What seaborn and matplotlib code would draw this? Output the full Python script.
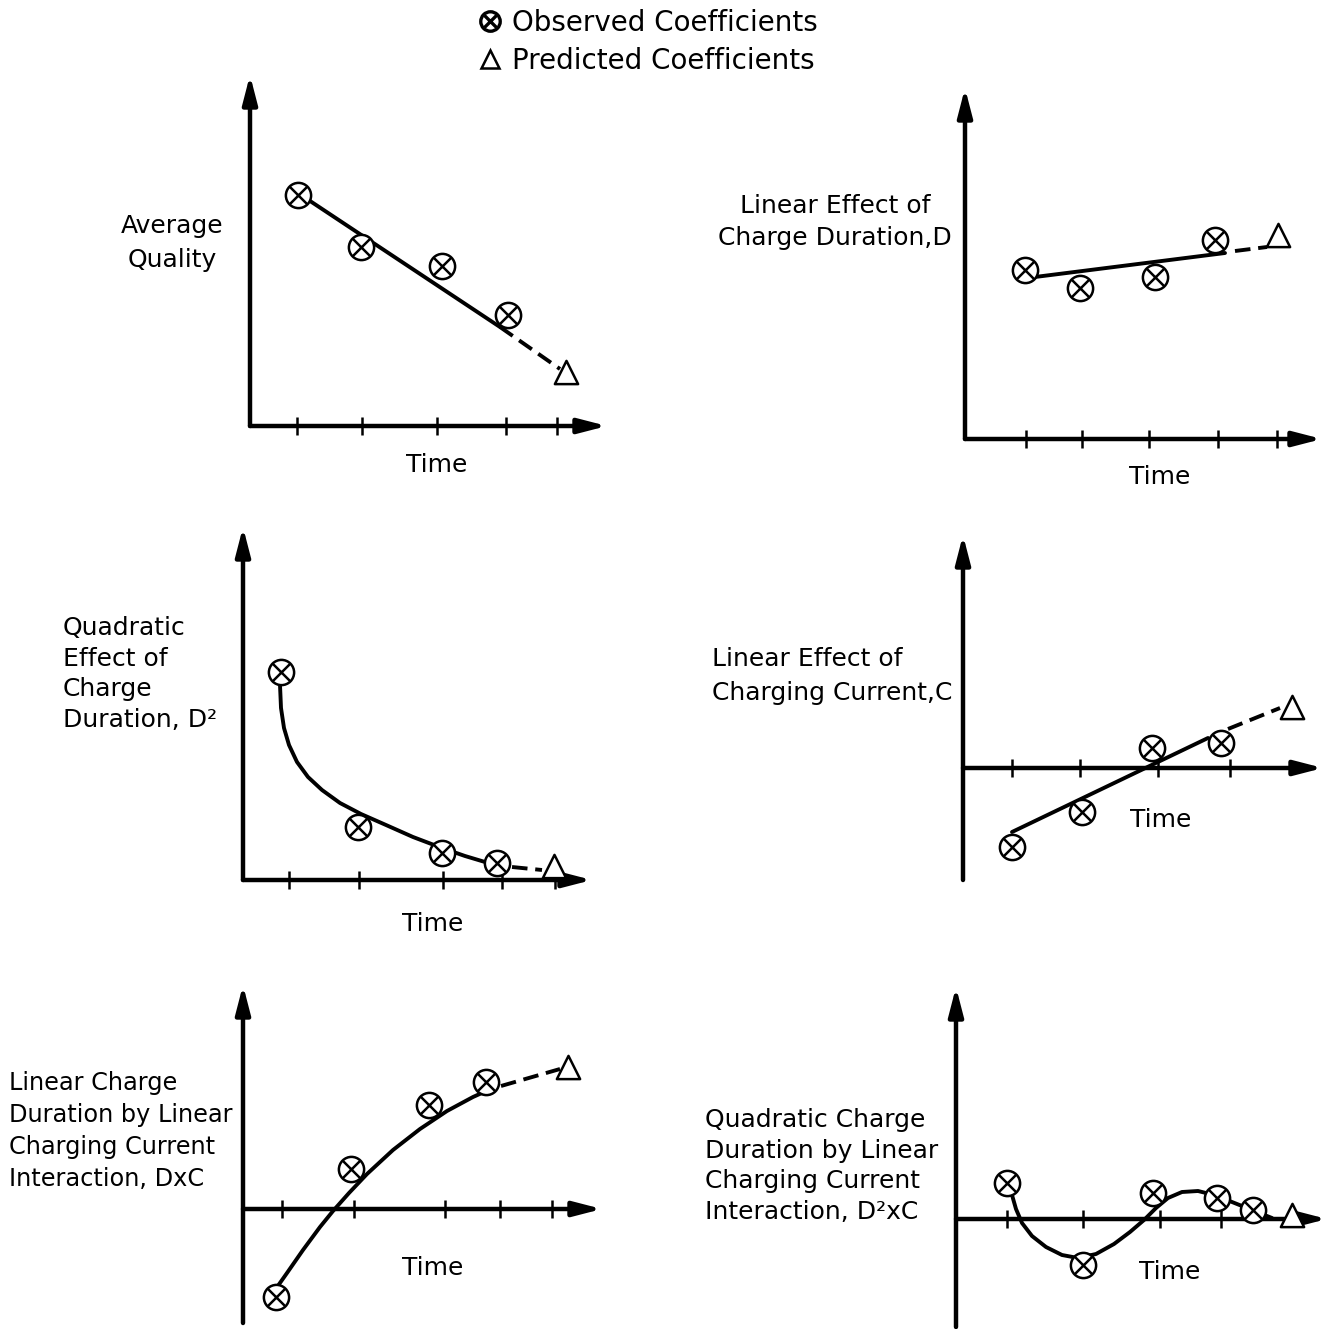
import numpy as np
import pandas as pd
import seaborn as sns
import matplotlib
matplotlib.use("Agg")
import matplotlib.pyplot as plt
from matplotlib.lines import Line2D
from matplotlib.legend_handler import HandlerTuple

# ------------------------------------------------------------
# Data (arbitrary units, origin = axes corner)
# ------------------------------------------------------------

# 1. Average quality
avg_ticks = [47, 112, 187, 256, 307]
avg_obs_t = [48, 111, 192, 258]
avg_obs_v = [231, 179, 160, 111]
avg_pred_t = [316]
avg_pred_v = [54]
avg_fit_t = [48, 250]
avg_fit_v = [233, 99]
avg_ext_t = [250, 310]
avg_ext_v = [99, 57]

# 2. Linear effect of charge duration D
lind_ticks = [61, 117, 184, 253, 312]
lind_obs_t = [60, 115, 190, 250]
lind_obs_v = [169, 151, 162, 199]
lind_pred_t = [313]
lind_pred_v = [204]
lind_fit_t = [62, 260]
lind_fit_v = [161, 186]
lind_ext_t = [270, 302]
lind_ext_v = [188, 192]

# 3. Quadratic effect of charge duration D^2
quad_ticks = [46, 116, 200, 259, 312]
quad_obs_t = [38, 115, 199, 254]
quad_obs_v = [208, 53, 27, 17]
quad_pred_t = [311]
quad_pred_v = [14]
quad_fit_t = [37, 38, 41, 46, 54, 65, 79, 97, 118, 143, 170, 199, 222, 242]
quad_fit_v = [195, 172, 152, 135, 118, 103, 90, 77, 66, 55, 43, 32, 24, 18]
quad_ext_t = [269, 299]
quad_ext_v = [13, 10]

# 4. Linear effect of charging current C
linc_ticks = [49, 117, 195, 267]
linc_obs_t = [49, 119, 189, 258]
linc_obs_v = [-79, -44, 20, 25]
linc_pred_t = [329]
linc_pred_v = [61]
linc_fit_t = [49, 245]
linc_fit_v = [-64, 30]
linc_ext_t = [265, 317]
linc_ext_v = [39, 60]

# 5. D x C interaction
dxc_ticks = [39, 111, 202, 257, 309]
dxc_obs_t = [33, 108, 186, 243]
dxc_obs_v = [-88, 40, 104, 127]
dxc_pred_t = [325]
dxc_pred_v = [142]
dxc_fit_t = [32, 44, 60, 77, 90, 106, 124, 150, 177, 204, 230, 250]
dxc_fit_v = [-81, -64, -41, -18, -2, 16, 35, 59, 80, 98, 112, 121]
dxc_ext_t = [258, 317]
dxc_ext_v = [123, 140]

# 6. D^2 x C interaction
d2c_ticks = [51, 127, 204, 265]
d2c_obs_t = [51, 127, 197, 261, 297]
d2c_obs_v = [36, -46, 26, 21, 9]
d2c_pred_t = [336]
d2c_pred_v = [4]
d2c_fit_t = [56, 60, 66, 76, 90, 106, 122, 140, 158, 174, 188, 200,
             212, 226, 242, 258, 276, 296, 306, 316]
d2c_fit_v = [24, 10, -4, -17, -28, -36, -39, -35, -25, -13, -1, 11,
             21, 27, 28, 24, 17, 9, 5, 1]
d2c_ext_t = []
d2c_ext_v = []

labels = [
    "Average\nQuality",
    "Linear Effect of\nCharge Duration,D",
    "Quadratic\nEffect of\nCharge\nDuration, D²",
    "Linear Effect of\nCharging Current,C",
    "Linear Charge\nDuration by Linear\nCharging Current\nInteraction, DxC",
    "Quadratic Charge\nDuration by Linear\nCharging Current\nInteraction, D²xC",
]

# ------------------------------------------------------------
# Figure
# ------------------------------------------------------------
sns.set_theme(style="white")
plt.rcParams["font.family"] = ["DejaVu Sans"]
plt.rcParams["text.color"] = "black"

W, H = 1328, 1329
fig = plt.figure(figsize=(W / 100, H / 100), dpi=100)

FS = 18
LW_AX = 3.2
LW_LINE = 2.8


def panel(ox, oy, xr, yt, yb, ticks, obs_t, obs_v, pred_t, pred_v,
          fit_t, fit_v, ext_t, ext_v):
    # axes whose data units are one pixel, origin at the drawn corner
    x0, x1 = -30, xr + 20
    y0, y1 = yb - 20, yt + 20
    ax = fig.add_axes([(ox + x0) / W, (H - (oy - y0)) / H,
                       (x1 - x0) / W, (y1 - y0) / H])
    ax.set_xlim(x0, x1)
    ax.set_ylim(y0, y1)
    ax.axis("off")

    arrow = dict(arrowstyle="-|>,head_length=0.85,head_width=0.22",
                 mutation_scale=20, lw=LW_AX, color="black",
                 shrinkA=0, shrinkB=0)
    ax.annotate("", xy=(0, yt), xytext=(0, yb), arrowprops=arrow)
    ax.annotate("", xy=(xr, 0), xytext=(0, 0), arrowprops=arrow)
    ax.vlines(ticks, -9, 9, colors="black", lw=1.8)

    sns.lineplot(x=fit_t, y=fit_v, ax=ax, color="black", lw=LW_LINE,
                 sort=False, estimator=None, solid_joinstyle="round")
    if len(ext_t):
        sns.lineplot(x=ext_t, y=ext_v, ax=ax, color="black", lw=LW_LINE,
                     sort=False, estimator=None, linestyle=(0, (4, 2)))

    sns.scatterplot(x=obs_t, y=obs_v, ax=ax, marker="o", s=330,
                    color="white", edgecolor="black", linewidth=1.8, zorder=4)
    sns.scatterplot(x=obs_t, y=obs_v, ax=ax, marker="x", s=150,
                    color="black", linewidth=1.8, zorder=5)
    sns.scatterplot(x=pred_t, y=pred_v, ax=ax, marker="^", s=280,
                    color="white", edgecolor="black", linewidth=1.8, zorder=4)
    return ax


panel(250, 426, 357, 351, 0, avg_ticks, avg_obs_t, avg_obs_v,
      avg_pred_t, avg_pred_v, avg_fit_t, avg_fit_v, avg_ext_t, avg_ext_v)
panel(965, 439, 357, 351, 0, lind_ticks, lind_obs_t, lind_obs_v,
      lind_pred_t, lind_pred_v, lind_fit_t, lind_fit_v, lind_ext_t, lind_ext_v)
panel(243, 880, 349, 353, 0, quad_ticks, quad_obs_t, quad_obs_v,
      quad_pred_t, quad_pred_v, quad_fit_t, quad_fit_v, quad_ext_t, quad_ext_v)
panel(963, 768, 360, 233, -112, linc_ticks, linc_obs_t, linc_obs_v,
      linc_pred_t, linc_pred_v, linc_fit_t, linc_fit_v, linc_ext_t, linc_ext_v)
panel(243, 1209, 359, 224, -114, dxc_ticks, dxc_obs_t, dxc_obs_v,
      dxc_pred_t, dxc_pred_v, dxc_fit_t, dxc_fit_v, dxc_ext_t, dxc_ext_v)
panel(956, 1219, 371, 232, -108, d2c_ticks, d2c_obs_t, d2c_obs_v,
      d2c_pred_t, d2c_pred_v, d2c_fit_t, d2c_fit_v, d2c_ext_t, d2c_ext_v)


def ftext(x, y, s, ha="center", ls=1.4, fs=FS):
    fig.text(x / W, 1 - y / H, s, ha=ha, va="center", fontsize=fs,
             linespacing=ls, multialignment=ha)


# y labels
ftext(172, 243, labels[0], ls=1.5)
ftext(835, 222, labels[1], ls=1.4)
ftext(63, 674, labels[2], ha="left", ls=1.36)
ftext(712, 676, labels[3], ha="left", ls=1.48)
ftext(9, 1131, labels[4], ha="left", ls=1.42, fs=17.3)
ftext(705, 1166, labels[5], ha="left", ls=1.36)

# time labels
for x, y in [(437, 465), (1160, 477), (433, 924), (1161, 820),
             (433, 1268), (1170, 1272)]:
    ftext(x, y, "Time")

# legend
obs_handle = (Line2D([], [], marker="o", ms=14, mfc="white", mec="black",
                     mew=2.4, ls=""),
              Line2D([], [], marker="x", ms=9, mec="black", mew=2.4, ls=""))
pred_handle = Line2D([], [], marker="^", ms=13, mfc="white", mec="black",
                     mew=1.8, ls="")
fig.legend([obs_handle, pred_handle],
           ["Observed Coefficients", "Predicted Coefficients"],
           handler_map={tuple: HandlerTuple(ndivide=1, pad=0)},
           loc="upper left", bbox_to_anchor=(476 / W, 1 - 9 / H),
           frameon=False, fontsize=20, borderpad=0, borderaxespad=0,
           handlelength=1.0, handletextpad=0.3, labelspacing=0.36)

fig.savefig("out.png", dpi=100, facecolor="white")
